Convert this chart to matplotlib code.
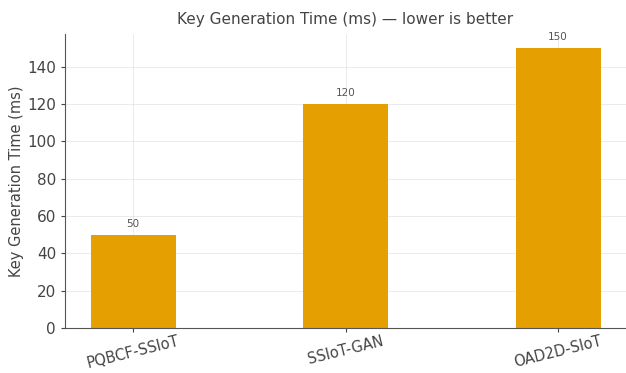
import matplotlib.pyplot as plt

# tempi di generazione delle chiavi per schema
schemi = ["PQBCF-SSIoT", "SSIoT-GAN", "OAD2D-SIoT"]
tempi_ms = [50, 120, 150]

fig = plt.figure(figsize=(6.26, 3.73), dpi=100)
ax = fig.add_axes([0.104, 0.121, 0.896, 0.788])

bars = ax.bar(schemi, tempi_ms, width=0.4, color="#E69F00", zorder=2)
for b, v in zip(bars, tempi_ms):
    ax.annotate(f"{v}", (b.get_x() + b.get_width() / 2, v), xytext=(0, 4),
                textcoords="offset points", ha="center", va="bottom",
                fontsize=7.5, color="#555555")

ax.set_title("Key Generation Time (ms) \u2014 lower is better", fontsize=11,
             color="#444444", pad=7)
ax.set_ylabel("Key Generation Time (ms)", fontsize=10.5, color="#444444", labelpad=2)
ax.set_ylim(0, 157.5)
ax.set_yticks(range(0, 141, 20))
ax.tick_params(axis="y", labelsize=11, colors="#444444", length=3)
ax.tick_params(axis="x", labelsize=10.5, colors="#444444", length=3, pad=1)
plt.setp(ax.get_xticklabels(), rotation=14, ha="center")

ax.grid(True, color="#dddddd", linewidth=0.6, alpha=0.7, zorder=0)
ax.spines["top"].set_visible(False)
ax.spines["right"].set_visible(False)
ax.spines["left"].set_color("#555555")
ax.spines["bottom"].set_color("#555555")

fig.savefig("out.png", dpi=100)
